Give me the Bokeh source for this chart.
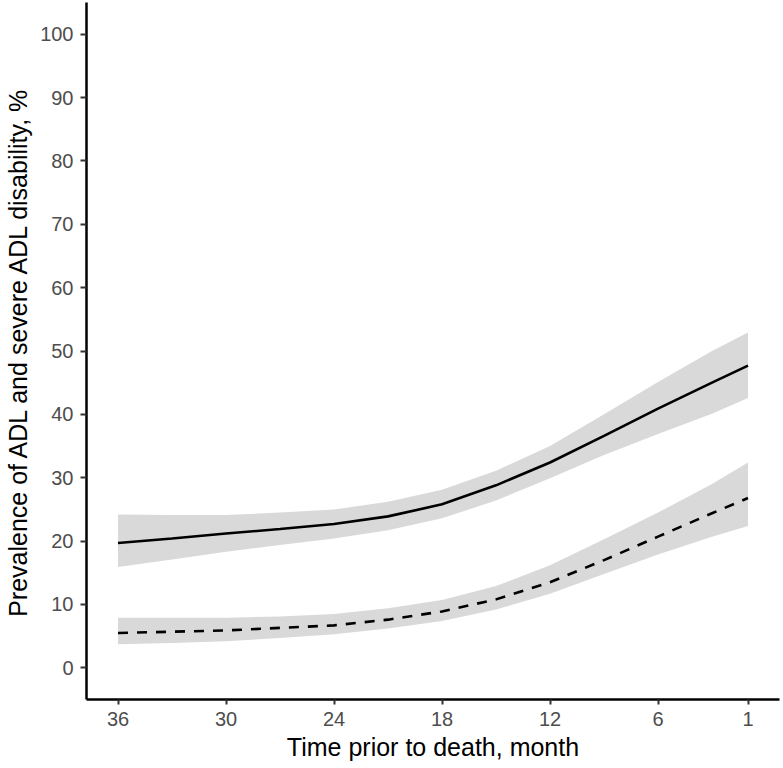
from bokeh.plotting import figure
from bokeh.models import Range1d, FixedTicker
from bokeh.embed import file_html
from bokeh.resources import INLINE

# Months prior to death
months = [36, 33, 30, 27, 24, 21, 18, 15, 12, 9, 6, 3, 1]

# ADL disability (solid line) with confidence band
adl = [19.7, 20.4, 21.2, 21.9, 22.7, 23.9, 25.8, 28.8, 32.4, 36.6, 40.9, 45.0, 47.7]
adl_lo = [15.9, 17.1, 18.3, 19.4, 20.4, 21.7, 23.6, 26.4, 29.9, 33.6, 36.9, 40.1, 42.6]
adl_hi = [24.2, 24.1, 24.1, 24.5, 25.0, 26.2, 28.1, 31.1, 35.0, 40.0, 45.1, 50.0, 52.9]

# Severe ADL disability (dashed line) with confidence band
sev = [5.5, 5.7, 5.9, 6.3, 6.7, 7.6, 8.9, 10.8, 13.5, 17.0, 20.7, 24.4, 26.8]
sev_lo = [3.7, 3.9, 4.2, 4.7, 5.3, 6.2, 7.4, 9.2, 11.7, 14.8, 17.9, 20.7, 22.4]
sev_hi = [7.9, 7.9, 7.9, 8.1, 8.5, 9.4, 10.7, 12.9, 16.2, 20.3, 24.5, 29.0, 32.4]

x_ticks = [36, 30, 24, 18, 12, 6, 1]
y_ticks = [0, 10, 20, 30, 40, 50, 60, 70, 80, 90, 100]

FONT = "Liberation Sans"

p = figure(width=788, height=769, output_backend="svg", toolbar_location=None,
           x_range=Range1d(37.75, -0.75), y_range=Range1d(-5, 105),
           min_border_left=94, min_border_right=1, min_border_top=8, min_border_bottom=61,
           margin=(-6, 0, 0, -8))

p.varea(x=months, y1=adl_lo, y2=adl_hi, fill_color="#d9d9d9", fill_alpha=1.0)
p.varea(x=months, y1=sev_lo, y2=sev_hi, fill_color="#d9d9d9", fill_alpha=1.0)
p.line(months, adl, line_color="black", line_width=2.6)
p.line(months, sev, line_color="black", line_width=2.6, line_dash="10 9")

p.outline_line_color = None
p.xgrid.grid_line_color = None
p.ygrid.grid_line_color = None
p.background_fill_color = "white"
p.border_fill_color = "white"

for ax in (p.xaxis[0], p.yaxis[0]):
    ax.axis_line_color = "black"
    ax.axis_line_width = 2.5
    ax.major_tick_line_color = "#333333"
    ax.major_tick_line_width = 2
    ax.major_tick_in = 0
    ax.minor_tick_line_color = None
    ax.major_label_text_font = FONT
    ax.major_label_text_font_size = "20px"
    ax.major_label_text_color = "#4d4d4d"
    ax.axis_label_text_font = FONT
    ax.axis_label_text_font_size = "25px"
    ax.axis_label_text_font_style = "normal"
    ax.axis_label_text_color = "black"

p.xaxis[0].ticker = FixedTicker(ticks=x_ticks)
p.xaxis[0].major_tick_out = 5
p.xaxis[0].major_label_standoff = 7
p.xaxis[0].axis_label_standoff = 4
p.xaxis[0].axis_label = "Time prior to death, month"

p.yaxis[0].ticker = FixedTicker(ticks=y_ticks)
p.yaxis[0].major_tick_out = 6
p.yaxis[0].major_label_standoff = 7
p.yaxis[0].axis_label_standoff = 5
p.yaxis[0].axis_label = "Prevalence of ADL and severe ADL disability, %"

open("out.html", "w").write(file_html(p, INLINE))
